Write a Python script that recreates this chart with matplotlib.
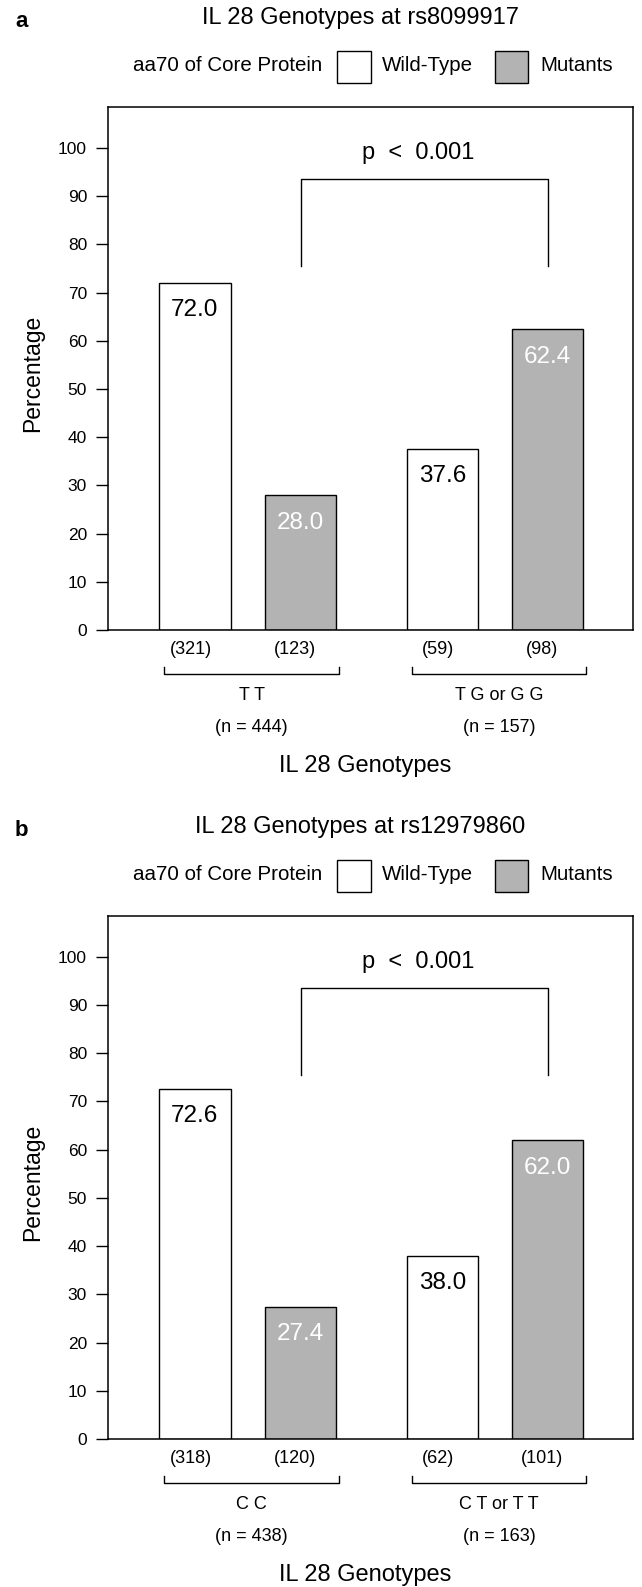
import matplotlib
matplotlib.use("Agg")
import matplotlib.pyplot as plt
from matplotlib.patches import Rectangle

plt.rcParams['font.family'] = ['Liberation Sans', 'DejaVu Sans']

# data
panel_letters = ['a', 'b']
snps = ['rs8099917', 'rs12979860']
group_names = [['T T', 'T G or G G'], ['C C', 'C T or T T']]
wild_pct = [[72.0, 37.6], [72.6, 38.0]]
mut_pct = [[28.0, 62.4], [27.4, 62.0]]
wild_n = [[321, 59], [318, 62]]
mut_n = [[123, 98], [120, 101]]
group_n = [[444, 157], [438, 163]]
p_text = 'p  <  0.001'

wild_x = [1.24, 4.78]
mut_x = [2.75, 6.28]
bar_w = 1.02
gray = '#b3b3b3'


def draw_panel(ax, k):
    ax.bar(wild_x, wild_pct[k], width=bar_w, color='white', edgecolor='black', linewidth=1.0)
    ax.bar(mut_x, mut_pct[k], width=bar_w, color=gray, edgecolor='black', linewidth=1.0)

    for x, v in zip(wild_x, wild_pct[k]):
        ax.text(x, v - 5.7, f'{v:.1f}', ha='center', va='center', fontsize=17.5, color='black')
    for x, v in zip(mut_x, mut_pct[k]):
        ax.text(x, v - 5.7, f'{v:.1f}', ha='center', va='center', fontsize=17.5, color='white')

    ax.set_xlim(0, 7.5)
    ax.set_ylim(0, 108.5)
    ax.set_yticks(range(0, 101, 10))
    ax.set_xticks([])
    ax.tick_params(axis='y', direction='out', length=8.6, width=1, labelsize=12.5, pad=6.5)
    for s in ax.spines.values():
        s.set_linewidth(1.1)
    ax.set_ylabel('Percentage', fontsize=16.5, va='center')
    ax.yaxis.set_label_coords(-0.143, 0.49)

    # significance bracket
    ax.plot([mut_x[0], mut_x[0], mut_x[1], mut_x[1]], [75.5, 93.6, 93.6, 75.5],
            color='black', lw=1.0)
    ax.text((mut_x[0] + mut_x[1]) / 2 - 0.08, 99.0, p_text, ha='center', va='center', fontsize=17)

    # labels under the axis
    for i in range(2):
        ax.text(wild_x[i] - 0.06, -4.1, f'({wild_n[k][i]})', ha='center', va='center', fontsize=13, clip_on=False)
        ax.text(mut_x[i] - 0.08, -4.1, f'({mut_n[k][i]})', ha='center', va='center', fontsize=13, clip_on=False)
        x0, x1 = wild_x[i] - 0.44, mut_x[i] + 0.55
        ax.plot([x0, x0, x1, x1], [-7.7, -9.1, -9.1, -7.7], color='black', lw=1.0, clip_on=False)
        xm = (x0 + x1) / 2
        ax.text(xm, -13.6, group_names[k][i], ha='center', va='center', fontsize=13, clip_on=False)
        ax.text(xm, -20.3, f'(n = {group_n[k][i]})', ha='center', va='center', fontsize=13, clip_on=False)
    ax.text(3.67, -28.2, 'IL 28 Genotypes', ha='center', va='center', fontsize=17, clip_on=False)

    # title, panel letter and legend row above the box
    ax.text(3.6, 127.0, f'IL 28 Genotypes at {snps[k]}', ha='center', va='center', fontsize=17, clip_on=False)
    ax.text(-1.24, 126.3, panel_letters[k], ha='center', va='center', fontsize=16, fontweight='bold', clip_on=False)
    ax.text(3.06, 117.0, 'aa70 of Core Protein', ha='right', va='center', fontsize=14.8, clip_on=False)
    ax.add_patch(Rectangle((3.27, 113.5), 0.49, 6.6, facecolor='white', edgecolor='black', lw=1.0, clip_on=False))
    ax.text(3.91, 117.0, 'Wild-Type', ha='left', va='center', fontsize=14.8, clip_on=False)
    ax.add_patch(Rectangle((5.53, 113.5), 0.47, 6.6, facecolor=gray, edgecolor='black', lw=1.0, clip_on=False))
    ax.text(6.17, 117.0, 'Mutants', ha='left', va='center', fontsize=14.8, clip_on=False)


fig = plt.figure(figsize=(6.42, 15.87), dpi=100)
ax_a = fig.add_axes([0.1682, 0.6030, 0.818, 0.3296])
ax_b = fig.add_axes([0.1682, 0.0933, 0.818, 0.3296])
draw_panel(ax_a, 0)
draw_panel(ax_b, 1)

fig.savefig('out.png', dpi=100)
